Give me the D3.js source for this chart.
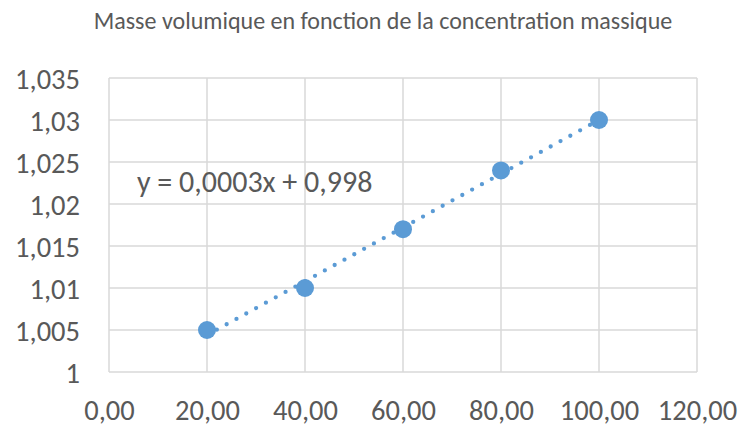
<!DOCTYPE html>
<html>
<head>
<meta charset="utf-8">
<script src="https://cdn.jsdelivr.net/npm/d3@7"></script>
<style>
  html, body { margin: 0; padding: 0; background: #fff; }
  svg { display: block; }
  text { font-family: Carlito, Calibri, Lato, sans-serif; fill: #595959; }
</style>
</head>
<body>
<svg id="chart" width="742" height="427"></svg>
<script>
const title = "Masse volumique en fonction de la concentration massique";
const concentrations = [20, 40, 60, 80, 100];
const densities = [1.005, 1.010, 1.017, 1.024, 1.030];
const xTicks = [0, 20, 40, 60, 80, 100, 120];
const yTicks = [1, 1.005, 1.01, 1.015, 1.02, 1.025, 1.03, 1.035];
const equationLabel = "y = 0,0003x + 0,998";

const svg = d3.select("#chart");
const x = d3.scaleLinear().domain([0, 120]).range([109, 697]);
const y = d3.scaleLinear().domain([1, 1.035]).range([372, 78]);

const frFixed2 = v => d3.format(".2f")(v).replace(".", ",");
const frY = v => String(+v.toFixed(3)).replace(".", ",");

// title
svg.append("text")
  .attr("x", 383).attr("y", 29)
  .attr("text-anchor", "middle")
  .style("font-size", "24px")
  .text(title);

// gridlines
const grid = svg.append("g");
grid.selectAll("line.h").data(yTicks).join("line")
  .attr("x1", x(0)).attr("x2", x(120))
  .attr("y1", d => y(d)).attr("y2", d => y(d))
  .attr("stroke", "#D9D9D9").attr("stroke-width", 1.5);
grid.selectAll("line.v").data(xTicks).join("line")
  .attr("y1", y(1)).attr("y2", y(1.035))
  .attr("x1", d => x(d)).attr("x2", d => x(d))
  .attr("stroke", "#D9D9D9").attr("stroke-width", 1.5);

// axes (labels only)
const yAxis = d3.axisLeft(y).tickValues(yTicks).tickFormat(frY).tickSize(0).tickPadding(29);
const gy = svg.append("g").attr("transform", `translate(${x(0)},0)`).call(yAxis);
gy.select(".domain").remove();
gy.selectAll("text").style("font-size", "28.5px").attr("fill", "#595959").attr("dy", "0.36em");

const xAxis = d3.axisBottom(x).tickValues(xTicks).tickFormat(frFixed2).tickSize(0).tickPadding(28);
const gx = svg.append("g").attr("transform", `translate(0,${y(1)})`).call(xAxis);
gx.select(".domain").remove();
gx.selectAll("text").style("font-size", "28.5px").attr("fill", "#595959");

// linear regression trendline
const mx = d3.mean(concentrations), my = d3.mean(densities);
const slope = d3.sum(concentrations, (c, i) => (c - mx) * (densities[i] - my)) /
              d3.sum(concentrations, c => (c - mx) * (c - mx));
const intercept = my - slope * mx;
const xMin = d3.min(concentrations), xMax = d3.max(concentrations);

svg.append("line")
  .attr("x1", x(xMin)).attr("y1", y(intercept + slope * xMin))
  .attr("x2", x(xMax)).attr("y2", y(intercept + slope * xMax))
  .attr("stroke", "#5B9BD5").attr("stroke-width", 4.3)
  .attr("stroke-linecap", "round")
  .attr("stroke-dasharray", "0 11.2");

// markers
svg.append("g").selectAll("circle").data(concentrations).join("circle")
  .attr("cx", d => x(d)).attr("cy", (d, i) => y(densities[i]))
  .attr("r", 9).attr("fill", "#5B9BD5");

// equation
svg.append("text")
  .attr("x", 137).attr("y", 192)
  .style("font-size", "30px")
  .text(equationLabel);
</script>
</body>
</html>
